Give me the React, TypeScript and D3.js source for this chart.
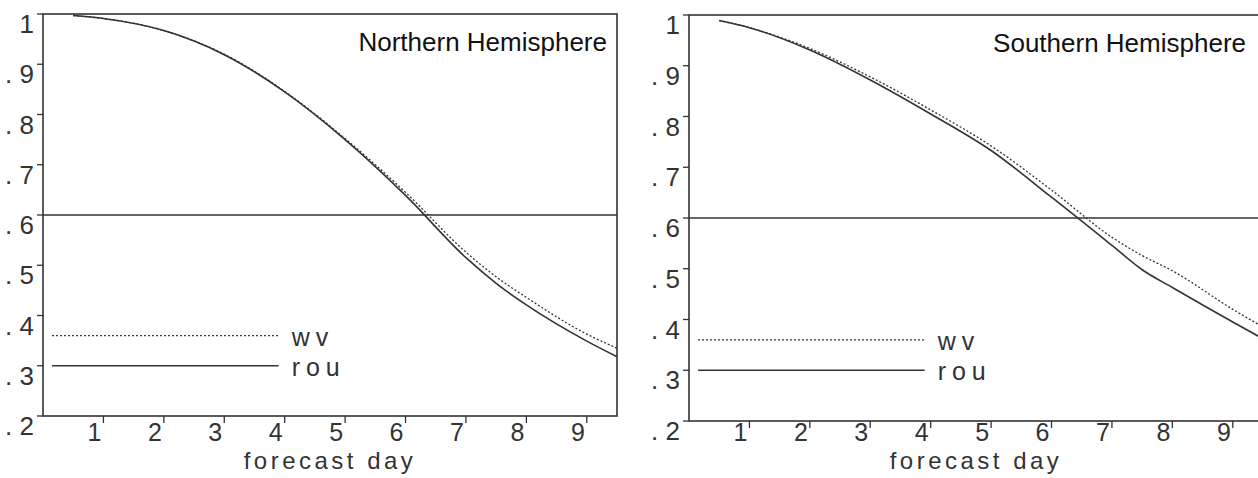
import React from 'react';
import * as d3 from 'd3';

const days = [0.5, 1, 2, 3, 4, 5, 6, 7, 7.5, 8, 9, 9.5];

// Northern Hemisphere anomaly correlation
const nhWv = [0.997, 0.991, 0.967, 0.920, 0.846, 0.752, 0.645, 0.526, 0.477, 0.436, 0.363, 0.335];
const nhRou = [0.997, 0.991, 0.967, 0.919, 0.845, 0.750, 0.639, 0.515, 0.464, 0.421, 0.349, 0.318];

// Southern Hemisphere anomaly correlation
const shWv = [0.989, 0.975, 0.934, 0.878, 0.813, 0.742, 0.655, 0.562, 0.526, 0.496, 0.420, 0.385];
const shRou = [0.989, 0.975, 0.931, 0.872, 0.805, 0.733, 0.641, 0.546, 0.498, 0.463, 0.395, 0.362];

const yTicks = [1, 0.9, 0.8, 0.7, 0.6, 0.5, 0.4, 0.3, 0.2];
const yTickLabels = ['1', '. 9', '. 8', '. 7', '. 6', '. 5', '. 4', '. 3', '. 2'];
const xTicks = [1, 2, 3, 4, 5, 6, 7, 8, 9];
const refLevel = 0.6;

const legendNames = ['wv', 'rou'];
const legendLevels = [0.36, 0.3];

const plotFont = '"Liberation Sans", Arial, sans-serif';
const ink = '#333';

type PanelProps = {
  title: string;
  wv: number[];
  rou: number[];
  left: number;
  top: number;
  bottom: number;
  titleX: number;
};

const Panel = ({ title, wv, rou, left, top, bottom, titleX }: PanelProps) => {
  const x = d3.scaleLinear().domain([0, 9.5]).range([left, left + 574]);
  const y = d3.scaleLinear().domain([0.2, 1]).range([bottom, top]);
  const line = d3.line<number>()
    .x((_, i) => x(days[i]))
    .y(d => y(d))
    .curve(d3.curveMonotoneX);

  const legX0 = x(0.15);
  const legX1 = x(3.9);

  return (
    <g>
      {/* frame */}
      <rect x={x(0)} y={y(1)} width={x(9.5) - x(0)} height={y(0.2) - y(1)}
        fill="none" stroke={ink} strokeWidth={1.6} />

      {/* y ticks */}
      {yTicks.map((t, i) => (
        <g key={'y' + t}>
          <line x1={x(0) - 6} x2={x(0)} y1={y(t)} y2={y(t)} stroke={ink} strokeWidth={1.3} />
          <text x={x(0) - 9} y={y(t) + 19} textAnchor="end" fontFamily={plotFont}
            fontSize={26} fill={ink}>{yTickLabels[i]}</text>
        </g>
      ))}

      {/* x ticks */}
      {xTicks.map(t => (
        <g key={'x' + t}>
          <line x1={x(t)} x2={x(t)} y1={y(0.2)} y2={y(0.2) + 7} stroke={ink} strokeWidth={1.3} />
          <text x={x(t) - 2} y={441} textAnchor="end" fontFamily={plotFont}
            fontSize={25} fill={ink}>{t}</text>
        </g>
      ))}
      <text x={x(4.75)} y={469} textAnchor="middle" fontFamily={plotFont}
        fontSize={24} letterSpacing={3.5} fill={ink}>forecast day</text>

      {/* reference level */}
      <line x1={x(0)} x2={x(9.5)} y1={y(refLevel)} y2={y(refLevel)} stroke={ink} strokeWidth={1.5} />

      {/* curves */}
      <path d={line(wv) || ''} fill="none" stroke={ink} strokeWidth={1.3} strokeDasharray="2,2" />
      <path d={line(rou) || ''} fill="none" stroke={ink} strokeWidth={1.6} />

      {/* legend */}
      {legendNames.map((name, i) => (
        <g key={name}>
          <line x1={legX0} x2={legX1} y1={y(legendLevels[i])} y2={y(legendLevels[i])}
            stroke={ink} strokeWidth={i === 0 ? 1.3 : 1.6} strokeDasharray={i === 0 ? '2,2' : undefined} />
          <text x={legX1 + 13} y={y(legendLevels[i]) + 10} fontFamily={plotFont}
            fontSize={25} letterSpacing={6} fill={ink}>{name}</text>
        </g>
      ))}

      <text x={titleX} y={top + 37} textAnchor="end" fontFamily={plotFont}
        fontSize={26} fill="#111">{title}</text>
    </g>
  );
};

export default function App() {
  return (
    <svg width={1258} height={478} style={{ position: 'absolute', left: 0, top: 0, background: '#fff' }}>
      <rect width={1258} height={478} fill="#fff" />
      <Panel title="Northern Hemisphere" wv={nhWv} rou={nhRou} left={43} top={14} bottom={416} titleX={607} />
      <Panel title="Southern Hemisphere" wv={shWv} rou={shRou} left={689} top={15} bottom={421} titleX={1246} />
    </svg>
  );
}
